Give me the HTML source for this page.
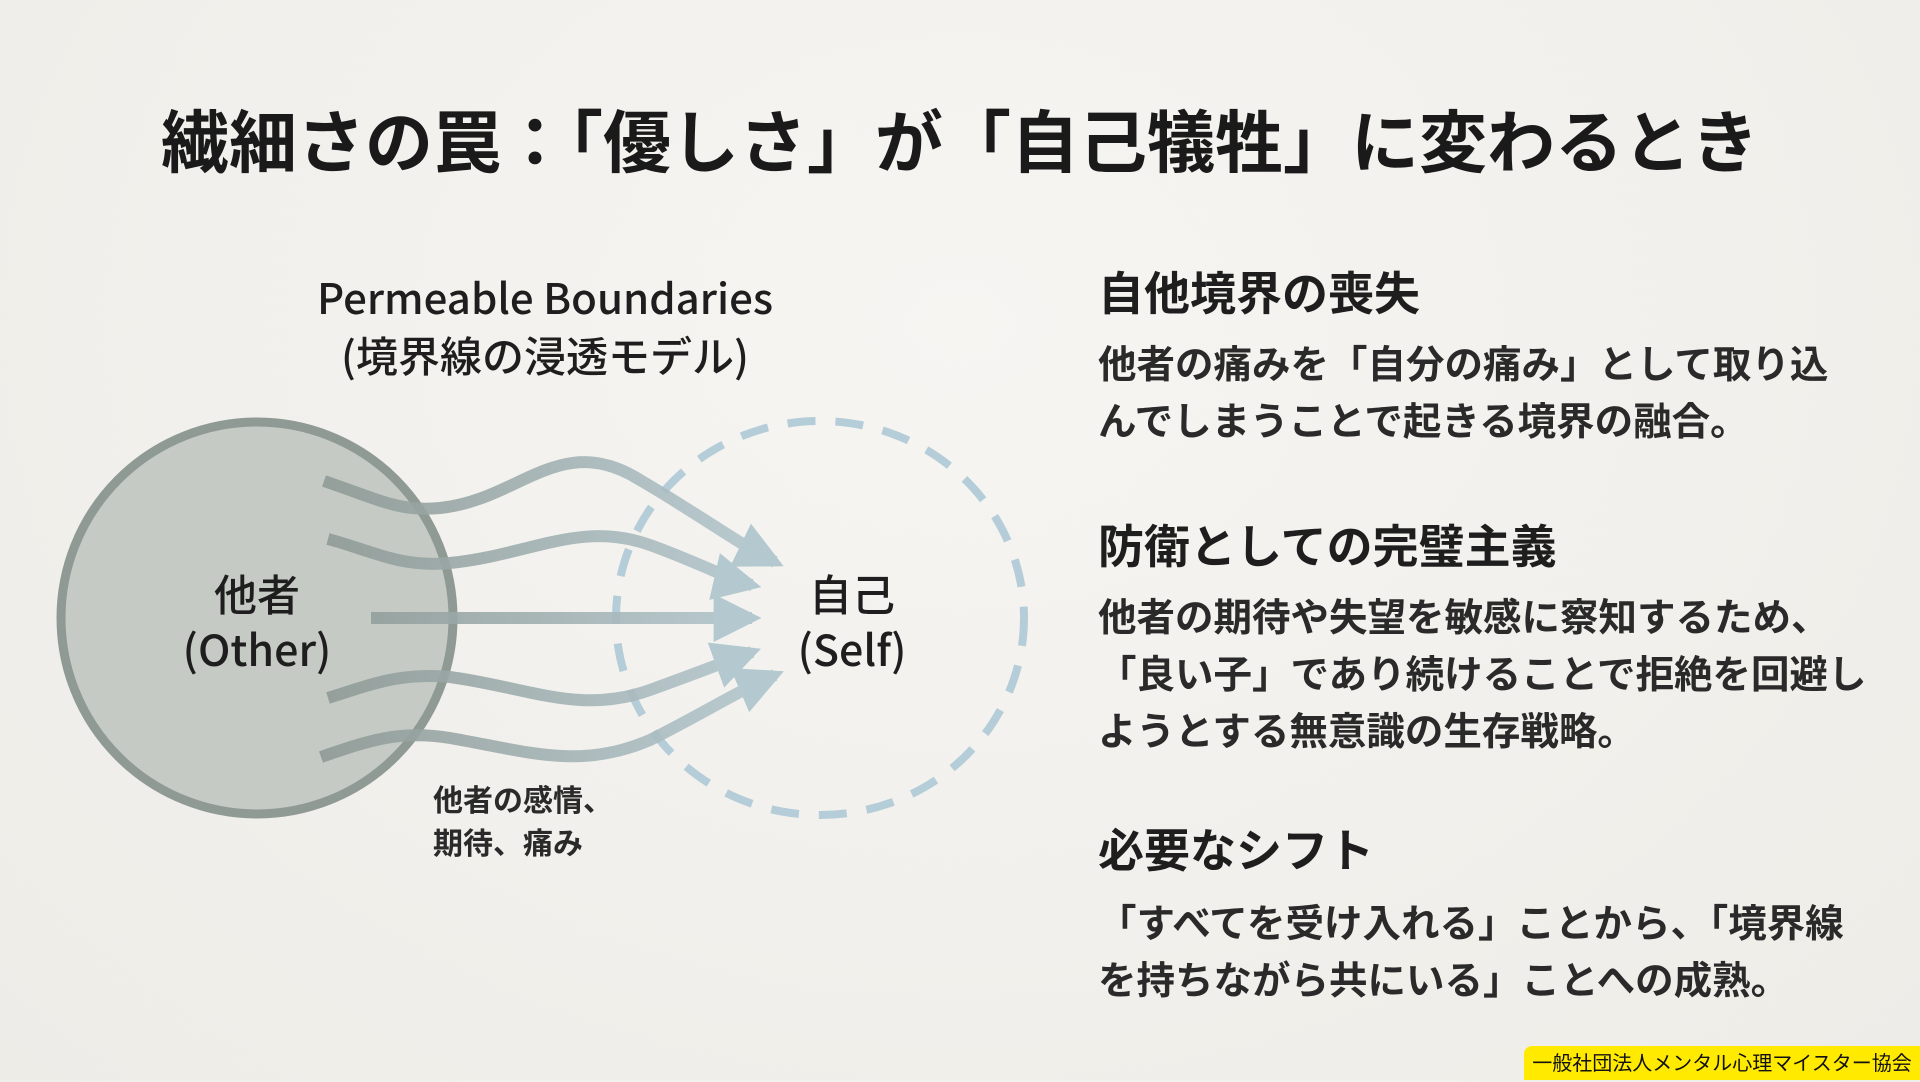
<!DOCTYPE html>
<html><head><meta charset="utf-8"><style>
body{margin:0;width:1920px;height:1080px;overflow:hidden;background:radial-gradient(ellipse at 50% 30%,#f6f5f2 0%,#eeece7 100%);font-family:"Liberation Sans","Noto Sans CJK JP",sans-serif;color:#1e1e1e;position:relative}
.a{position:absolute;white-space:nowrap}
.t{font-weight:bold;font-size:68px;left:0;width:1920px;text-align:center;top:100px;line-height:88px;color:#1a1a1a}
.h{font-weight:bold;font-size:46px;left:1098px;line-height:58px}
.b{font-size:38.5px;left:1098px;line-height:57px;font-weight:bold;color:#2a2a2a}
.c{text-align:center;font-size:43px;line-height:55px;font-family:"Noto Sans CJK JP",sans-serif;font-weight:500}
</style></head><body>
<div class="a t">繊細さの罠：「優しさ」が「自己犠牲」に変わるとき</div>
<div class="a c" style="left:245px;width:600px;top:268px;font-size:42px;line-height:58px">Permeable Boundaries<br>(境界線の浸透モデル)</div>
<svg class="a" style="left:0;top:0" width="1100" height="1080">
<defs>
<linearGradient id="g" gradientUnits="userSpaceOnUse" x1="320" y1="0" x2="780" y2="0"><stop offset="0" stop-color="#8f9a96"/><stop offset="1" stop-color="#b4c8cf"/></linearGradient>
<marker id="m" viewBox="0 0 10 10" refX="8" refY="5" markerWidth="4" markerHeight="4" orient="auto"><path d="M0,0L10,5L0,10z" fill="#b4c8cf"/></marker>
</defs>
<circle cx="257" cy="618" r="196" fill="#c5cac5" stroke="#8f9a94" stroke-width="9"/>
<ellipse cx="820" cy="618" rx="204" ry="197" fill="none" stroke="#b5cdd8" stroke-width="8" stroke-dasharray="28 20"/>
<g fill="none" stroke="url(#g)" stroke-width="12" stroke-opacity="0.9" marker-end="url(#m)">
<path d="M324,481 C380,500 400,512 440,508 C520,500 560,430 640,480 C700,515 740,545 775,562"/>
<path d="M328,539 C370,550 400,568 450,563 C530,555 580,520 650,545 C700,563 730,580 752,585"/>
<path d="M371,618 L752,618"/>
<path d="M328,698 C370,685 400,672 450,677 C530,688 580,715 650,690 C700,672 730,660 752,652"/>
<path d="M321,757 C370,740 400,730 450,738 C530,752 580,770 650,740 C700,715 740,690 775,675"/>
</g>
</svg>
<div class="a c" style="left:107px;width:300px;top:566px">他者<br>(Other)</div>
<div class="a c" style="left:702px;width:300px;top:566px">自己<br>(Self)</div>
<div class="a" style="left:433px;top:780px;font-size:30px;line-height:43px;font-weight:bold;color:#2a2a2a">他者の感情、<br>期待、痛み</div>
<div class="a h" style="top:265px">自他境界の喪失</div>
<div class="a b" style="top:337px">他者の痛みを「自分の痛み」として取り込<br>んでしまうことで起きる境界の融合。</div>
<div class="a h" style="top:518px">防衛としての完璧主義</div>
<div class="a b" style="top:590px">他者の期待や失望を敏感に察知するため、<br>「良い子」であり続けることで拒絶を回避し<br>ようとする無意識の生存戦略。</div>
<div class="a h" style="top:822px">必要なシフト</div>
<div class="a b" style="top:896px">「すべてを受け入れる」ことから、「境界線<br>を持ちながら共にいる」ことへの成熟。</div>
<div class="a" style="left:1524px;top:1046px;width:396px;height:34px;background:#ffea00;border-radius:8px 0 0 0;font-size:20px;line-height:36px;text-align:center;color:#111">一般社団法人メンタル心理マイスター協会</div>
</body></html>
